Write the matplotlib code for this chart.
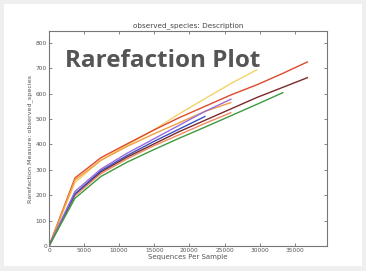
import matplotlib
matplotlib.use("Agg")
import matplotlib.pyplot as plt
from matplotlib.patches import Rectangle

# sequences per sample (rarefaction depths)
depth = [0, 3700, 7400, 11100, 14800, 18500, 22200, 25900, 29600, 33300, 36800]

red = [0, 268, 348, 402, 455, 505, 550, 595, 635, 680, 725]
yellow = [0, 250, 338, 397, 455, 520, 580, 640, 694]
orange = [0, 260, 338, 392, 440, 485, 530, 565]
purple = [0, 215, 303, 365, 420, 475, 530, 578]
blue = [0, 205, 297, 356, 410, 460, 510]
brown = [0, 205, 292, 350, 400, 450, 495, 540, 585, 625, 663]
salmon = [0, 198, 285, 343, 393, 438, 483, 525]
green = [0, 188, 274, 330, 378, 424, 468, 513, 558, 604]

series = [
    (yellow, "#f2d36a"),
    (red, "#e0482c"),
    (orange, "#f0a040"),
    (salmon, "#f08a60"),
    (brown, "#7a2a2a"),
    (blue, "#3a50c0"),
    (purple, "#9a6ad8"),
    (green, "#3f9a3f"),
]

fig = plt.figure(figsize=(3.66, 2.71), dpi=100)
fig.patch.set_facecolor("#efefef")
fig.patches.append(Rectangle((4/366, 5/271), 358/366, 262/271, transform=fig.transFigure,
                             facecolor="white", edgecolor="none", zorder=-10))

ax = fig.add_axes([49/366, 25/271, 278/366, 215/271])
ax.set_zorder(1)
for vals, col in series:
    ax.plot(depth[:len(vals)], vals, color=col, lw=1.0)

ax.set_xlim(0, 39600)
ax.set_ylim(0, 847)
ax.set_xticks([0, 5000, 10000, 15000, 20000, 25000, 30000, 35000])
ax.set_yticks([0, 100, 200, 300, 400, 500, 600, 700, 800])
ax.tick_params(labelsize=4.2, length=2, width=0.5, colors="#555555", pad=1.5)
ax.tick_params(top=True, right=True, direction="in")
for s in ax.spines.values():
    s.set_color("#777777")
    s.set_linewidth(0.8)
ax.set_title("observed_species: Description", fontsize=5.2, color="#444444", pad=3)
ax.set_xlabel("Sequences Per Sample", fontsize=5, color="#555555", labelpad=1)
ax.set_ylabel("Rarefaction Measure: observed_species", fontsize=4.6, color="#555555", labelpad=2)

fig.text(65/366, 1 - 67/271, "Rarefaction Plot", fontsize=17.5, fontweight="bold",
         family="Open Sans", color="#555555", ha="left", va="baseline", zorder=5)

fig.savefig("out.png", dpi=100, facecolor=fig.get_facecolor())
